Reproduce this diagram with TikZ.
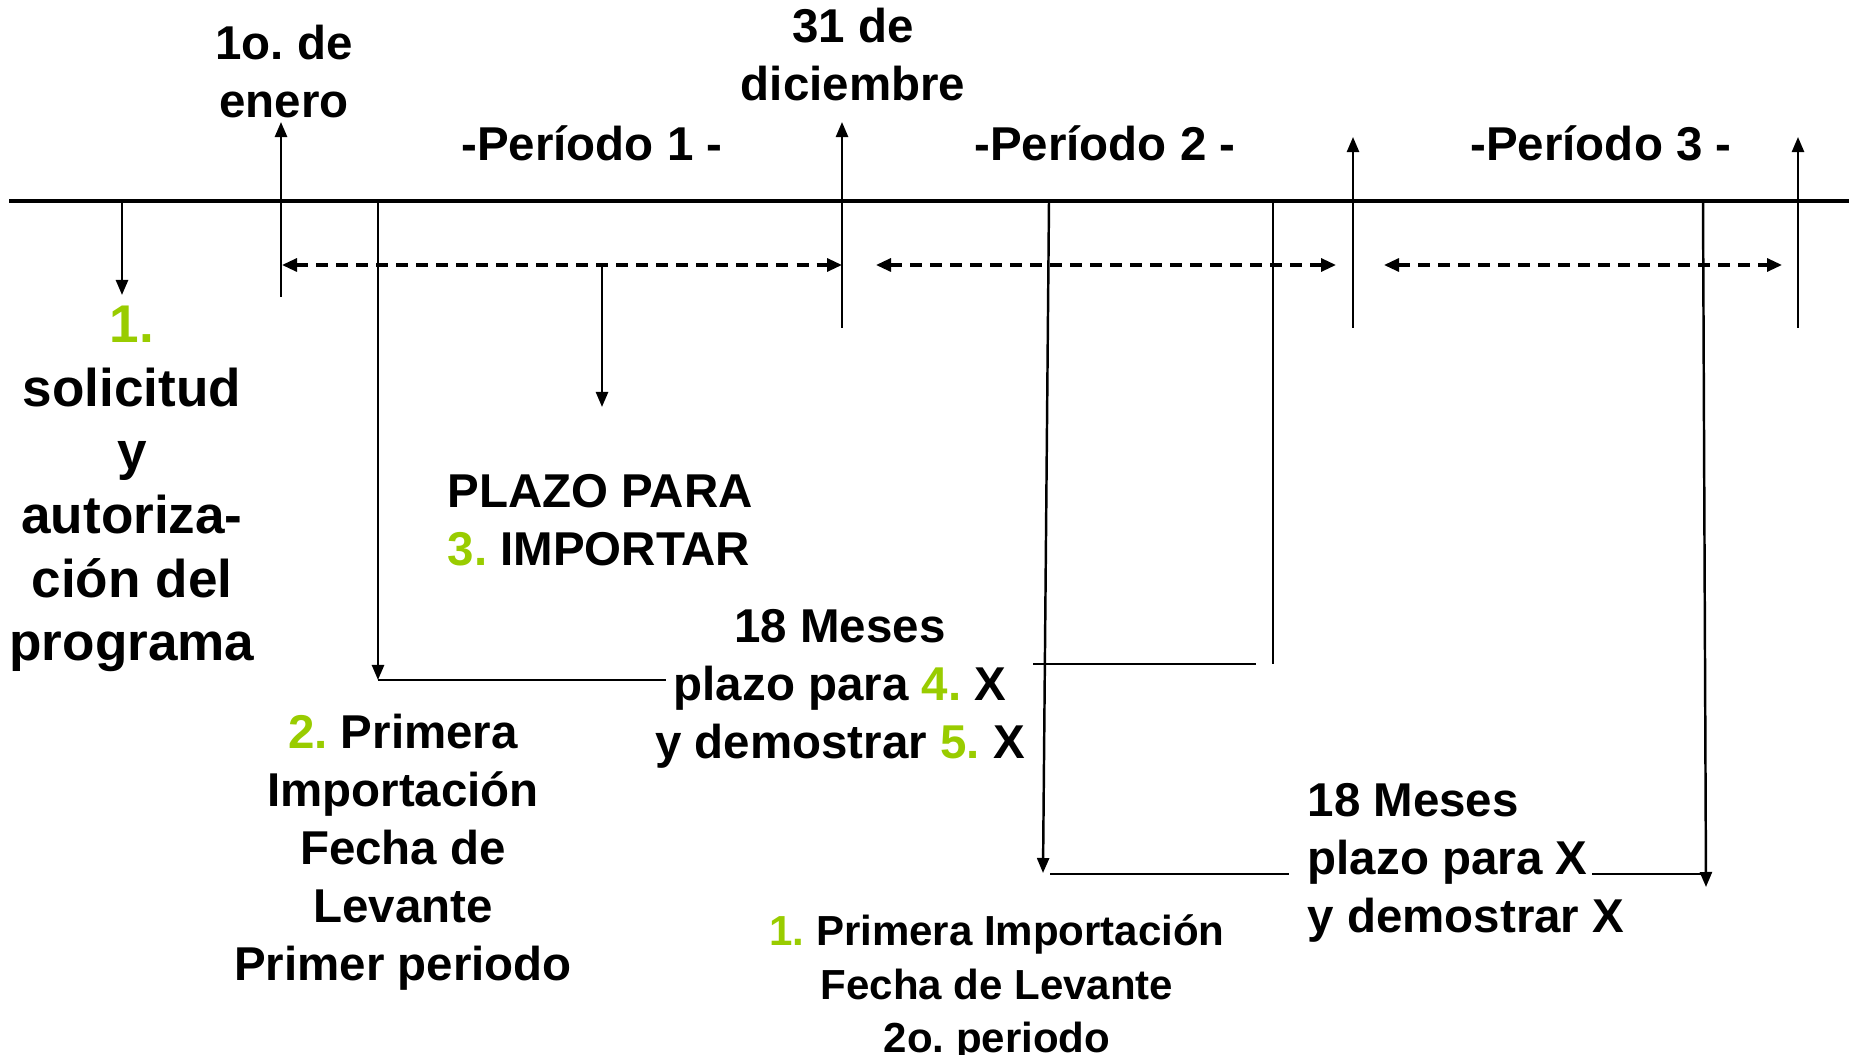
\documentclass[tikz,border=0pt]{standalone}
\usepackage{fontspec}
\setmainfont{Liberation Sans}
\usetikzlibrary{arrows.meta}
\definecolor{numgreen}{RGB}{153,204,0}
\newcommand{\gnum}[1]{\textcolor{numgreen}{#1}}
\frenchspacing

\begin{document}
\begin{tikzpicture}[x=0.01cm, y=-0.01cm,
  every node/.style={inner sep=0pt, align=center, font=\fontsize{13.5}{16.5}\selectfont\bfseries},
  thin line/.style={line width=0.7pt},
  tip/.style={thin line, -{Triangle[length=0.15cm,width=0.12cm]}},
  span/.style={{Triangle[length=0.15cm,width=0.13cm]}-{Triangle[length=0.15cm,width=0.13cm]}, dash pattern=on 0.12cm off 0.08cm, line width=0.9pt}]
	\useasboundingbox (0,0) rectangle (1854,1055);

	\coordinate (tl) at (9,201);
	\coordinate (tr) at (1849,201);
	\draw[line width=1.1pt] (tl) -- (tr);

	\node (enero) at (284,72) {1o. de\\enero};
	\node (dic) at (853,55) {31 de\\diciembre};
	\node[anchor=base] (per1) at (592,161) {-Período 1 -};
	\node[anchor=base] (per2) at (1105,161) {-Período 2 -};
	\node[anchor=base] (per3) at (1601,161) {-Período 3 -};
	\node[font=\fontsize{15.1}{18.1}\selectfont\bfseries] (solic) at (132,489) {\gnum{1.}\\solicitud\\y\\autoriza-\\ción del\\programa};
	\node[anchor=west, align=left] (plazo) at (447,520) {PLAZO PARA\\\gnum{3.} IMPORTAR};
	\node (meses1) at (840,689) {18 Meses\\plazo para \gnum{4.} X\\y demostrar \gnum{5.} X};
	\node (prim1) at (403,852) {\gnum{2.} Primera\\Importación\\Fecha de\\Levante\\Primer periodo};
	\node[font=\fontsize{11.95}{15.1}\selectfont\bfseries] (prim2) at (997,988) {\gnum{1.} Primera Importación\\Fecha de Levante\\2o. periodo};
	\node[anchor=west, align=left] (meses2) at (1307,863) {18 Meses\\plazo para X\\y demostrar X};

	\coordinate (s0) at (122,201);
	\coordinate (s1) at (122,295);
	\coordinate (e0) at (281,297);
	\coordinate (e1) at (281,122);
	\coordinate (d0) at (842,328);
	\coordinate (d1) at (842,122);
	\coordinate (f0) at (1353,328);
	\coordinate (f1) at (1353,137);
	\coordinate (g0) at (1798,328);
	\coordinate (g1) at (1798,137);

	\coordinate (p1a) at (282,265);
	\coordinate (p1b) at (842,265);
	\coordinate (p2a) at (876,265);
	\coordinate (p2b) at (1336,265);
	\coordinate (p3a) at (1384,265);
	\coordinate (p3b) at (1782,265);
	\coordinate (m0) at (602,265);
	\coordinate (m1) at (602,407);

	\coordinate (a0) at (378,201);
	\coordinate (a1) at (378,680);
	\coordinate (a2) at (666,680);
	\coordinate (b0) at (1049,201);
	\coordinate (b1) at (1043,873);
	\coordinate (b2) at (1050,874);
	\coordinate (b3) at (1289,874);
	\coordinate (c0) at (1273,201);
	\coordinate (c1) at (1273,664);
	\coordinate (c2) at (1033,664);
	\coordinate (c3) at (1256,664);
	\coordinate (h0) at (1703,201);
	\coordinate (h1) at (1706,887);
	\coordinate (h2) at (1592,874);
	\coordinate (h3) at (1703,874);

	\draw[tip] (s0) -- (s1);
	\draw[tip] (e0) -- (e1);
	\draw[tip] (d0) -- (d1);
	\draw[tip] (f0) -- (f1);
	\draw[tip] (g0) -- (g1);
	\draw[span] (p1a) -- (p1b);
	\draw[span] (p2a) -- (p2b);
	\draw[span] (p3a) -- (p3b);
	\draw[tip] (m0) -- (m1);
	\draw[tip] (a0) -- (a1);
	\draw[thin line] (a1) -- (a2);
	\draw[tip] (b0) -- (b1);
	\draw[thin line] (b2) -- (b3);
	\draw[thin line] (c0) -- (c1);
	\draw[thin line] (c2) -- (c3);
	\draw[tip] (h0) -- (h1);
	\draw[thin line] (h2) -- (h3);
\end{tikzpicture}
\end{document}
